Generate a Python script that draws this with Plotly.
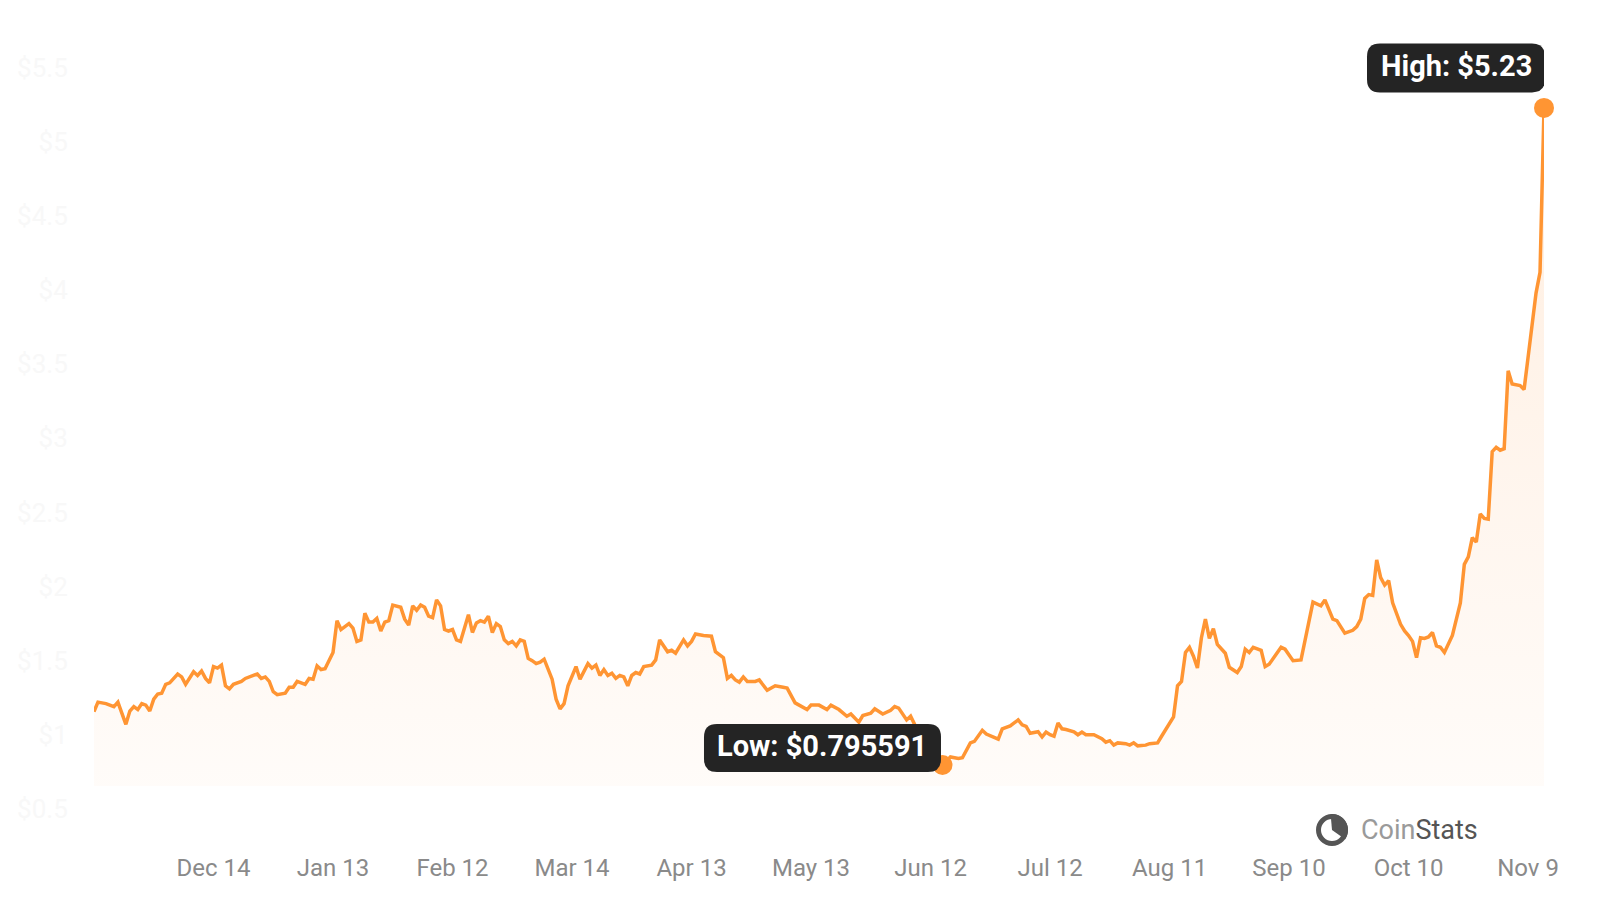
import math
import pandas as pd
import plotly.graph_objects as go

# ---------------- data ----------------
start_date = "2022-11-14"
day_offsets = [
    0, 1, 3, 4, 5, 6, 8, 9, 10, 11,
    12, 13, 14, 15, 16, 17, 18, 19, 21, 22,
    23, 25, 26, 27, 28, 29, 30, 31, 32, 33,
    34, 35, 37, 38, 41, 42, 43, 44, 45, 46,
    48, 49, 50, 51, 53, 54, 55, 56, 57, 58,
    59, 60, 61, 62, 64, 65, 66, 67, 68, 69,
    70, 71, 72, 73, 74, 75, 77, 78, 79, 80,
    81, 82, 83, 84, 85, 86, 87, 88, 89, 90,
    91, 92, 94, 95, 96, 97, 98, 99, 100, 101,
    102, 103, 104, 105, 106, 107, 108, 109, 110, 111,
    112, 113, 115, 116, 117, 118, 119, 120, 121, 122,
    124, 125, 126, 127, 128, 129, 130, 131, 132, 133,
    134, 135, 136, 137, 138, 140, 141, 142, 144, 145,
    146, 148, 149, 150, 151, 153, 155, 156, 158, 159,
    160, 161, 162, 163, 164, 166, 167, 169, 171, 173,
    174, 176, 177, 179, 180, 182, 184, 185, 187, 189,
    190, 192, 193, 195, 196, 198, 200, 201, 202, 204,
    205, 206, 208, 210, 212, 213, 215, 217, 218, 219,
    220, 221, 223, 224, 225, 227, 228, 230, 231, 232,
    233, 234, 235, 237, 238, 239, 240, 241, 242, 243,
    244, 246, 247, 248, 249, 251, 253, 254, 255, 256,
    257, 259, 260, 261, 262, 264, 265, 267, 268, 270,
    271, 272, 273, 274, 275, 276, 277, 278, 279, 280,
    281, 282, 284, 285, 287, 288, 289, 290, 291, 293,
    294, 295, 297, 298, 299, 301, 303, 306, 308, 309,
    311, 312, 314, 316, 317, 318, 319, 320, 321, 322,
    323, 324, 325, 326, 328, 329, 330, 331, 332, 333,
    334, 335, 336, 337, 338, 339, 341, 342, 343, 344,
    345, 346, 347, 348, 349, 350, 351, 352, 353, 354,
    355, 356, 358, 359, 362, 363, 364,
]
prices = [
    1.156, 1.22, 1.21, 1.20, 1.19, 1.22, 1.07, 1.16, 1.19, 1.17,
    1.21, 1.20, 1.16, 1.24, 1.275, 1.28, 1.34, 1.35, 1.41, 1.39,
    1.34, 1.425, 1.40, 1.43, 1.38, 1.35, 1.46, 1.45, 1.47, 1.33,
    1.31, 1.34, 1.36, 1.38, 1.41, 1.38, 1.39, 1.36, 1.29, 1.27,
    1.28, 1.32, 1.32, 1.36, 1.34, 1.38, 1.375, 1.465, 1.44, 1.445,
    1.505, 1.555, 1.77, 1.71, 1.75, 1.72, 1.63, 1.64, 1.82, 1.76,
    1.76, 1.785, 1.70, 1.76, 1.77, 1.875, 1.86, 1.78, 1.74, 1.87,
    1.84, 1.875, 1.86, 1.80, 1.79, 1.91, 1.87, 1.71, 1.70, 1.71,
    1.64, 1.63, 1.81, 1.69, 1.755, 1.77, 1.76, 1.80, 1.69, 1.75,
    1.73, 1.64, 1.615, 1.63, 1.60, 1.64, 1.63, 1.515, 1.50, 1.48,
    1.49, 1.51, 1.375, 1.24, 1.175, 1.21, 1.33, 1.40, 1.46, 1.375,
    1.48, 1.45, 1.47, 1.40, 1.44, 1.40, 1.415, 1.38, 1.40, 1.39,
    1.33, 1.40, 1.42, 1.41, 1.46, 1.47, 1.505, 1.64, 1.56, 1.57,
    1.55, 1.64, 1.60, 1.63, 1.68, 1.67, 1.665, 1.56, 1.52, 1.38,
    1.40, 1.37, 1.355, 1.39, 1.36, 1.36, 1.37, 1.30, 1.33, 1.32,
    1.315, 1.215, 1.20, 1.17, 1.20, 1.20, 1.17, 1.20, 1.17, 1.125,
    1.14, 1.085, 1.13, 1.145, 1.175, 1.14, 1.165, 1.19, 1.18, 1.10,
    1.125, 1.07, 0.98, 0.90, 0.84, 0.795591, 0.85, 0.84, 0.845, 0.895,
    0.945, 0.955, 1.03, 1.005, 0.995, 0.97, 1.04, 1.06, 1.08, 1.10,
    1.067, 1.056, 1.01, 1.02, 0.985, 1.018, 1.0, 0.99, 1.08, 1.04,
    1.035, 1.02, 1.0, 1.018, 1.0, 1.0, 0.973, 0.95, 0.96, 0.93,
    0.945, 0.94, 0.93, 0.946, 0.925, 0.93, 0.94, 0.945, 0.99, 1.08,
    1.12, 1.33, 1.36, 1.555, 1.59, 1.53, 1.45, 1.655, 1.78, 1.65,
    1.716, 1.61, 1.55, 1.455, 1.42, 1.46, 1.577, 1.555, 1.59, 1.57,
    1.46, 1.476, 1.555, 1.59, 1.577, 1.50, 1.505, 1.895, 1.87, 1.91,
    1.78, 1.77, 1.685, 1.705, 1.73, 1.78, 1.92, 1.946, 1.94, 2.18,
    2.06, 2.01, 2.04, 1.89, 1.745, 1.70, 1.67, 1.63, 1.52, 1.655,
    1.65, 1.66, 1.69, 1.60, 1.59, 1.555, 1.67, 1.79, 1.89, 2.15,
    2.20, 2.33, 2.30, 2.49, 2.46, 2.455, 2.91, 2.94, 2.92, 2.93,
    3.456, 3.367, 3.356, 3.33, 3.98, 4.12, 5.23,
]
x_tick_dates = ["2022-12-14", "2023-01-13", "2023-02-12", "2023-03-14",
                "2023-04-13", "2023-05-13", "2023-06-12", "2023-07-12",
                "2023-08-11", "2023-09-10", "2023-10-10", "2023-11-09"]
x_tick_labels = ["Dec 14", "Jan 13", "Feb 12", "Mar 14", "Apr 13", "May 13",
                 "Jun 12", "Jul 12", "Aug 11", "Sep 10", "Oct 10", "Nov 9"]
y_tick_values = [0.5, 1, 1.5, 2, 2.5, 3, 3.5, 4, 4.5, 5, 5.5]
y_tick_labels = ["$0.5", "$1", "$1.5", "$2", "$2.5", "$3", "$3.5", "$4", "$4.5", "$5", "$5.5"]
fill_base = 0.655

# ---------------- build ----------------
dates = pd.Timestamp(start_date) + pd.to_timedelta(day_offsets, unit="D")
i_hi = max(range(len(prices)), key=lambda i: prices[i])
i_lo = min(range(len(prices)), key=lambda i: prices[i])

ORANGE = "#ff9533"
L, R, T, B = 94, 56, 36, 75
W, H = 1600 - L - R, 900 - T - B

fig = go.Figure()
fig.add_trace(go.Scatter(x=[dates[0], dates[-1]], y=[fill_base, fill_base], mode="lines",
                         line=dict(width=0, color="rgba(0,0,0,0)"), hoverinfo="skip",
                         showlegend=False))
fig.add_trace(go.Scatter(
    x=dates, y=prices, mode="lines", fill="tonexty",
    line=dict(color=ORANGE, width=3.5),
    fillgradient=dict(type="vertical", start=fill_base, stop=max(prices),
                      colorscale=[[0, "rgba(255,140,45,0.03)"], [1, "rgba(255,140,45,0.15)"]]),
    showlegend=False))
fig.add_trace(go.Scatter(x=[dates[i_lo], dates[i_hi]], y=[prices[i_lo], prices[i_hi]],
                         mode="markers", marker=dict(color=ORANGE, size=20),
                         cliponaxis=False, showlegend=False))


def rounded_rect(cx, cy, w, h, r):
    x0, x1, y0, y1 = cx - w / 2, cx + w / 2, cy - h / 2, cy + h / 2
    return (f"M{x0 + r},{y0} L{x1 - r},{y0} Q{x1},{y0} {x1},{y0 + r} "
            f"L{x1},{y1 - r} Q{x1},{y1} {x1 - r},{y1} L{x0 + r},{y1} "
            f"Q{x0},{y1} {x0},{y1 - r} L{x0},{y0 + r} Q{x0},{y0} {x0 + r},{y0} Z")


labels = [
    (i_hi, f"High: ${prices[i_hi]:.2f}", -88, 40, 178, 49),
    (i_lo, f"Low: ${prices[i_lo]:.6f}", -120, 17, 237, 48),
]
for idx, text, dx, dy, bw, bh in labels:
    fig.add_shape(type="path", xref="x", yref="y", xsizemode="pixel", ysizemode="pixel",
                  xanchor=dates[idx], yanchor=prices[idx],
                  path=rounded_rect(dx, dy, bw, bh, 13),
                  fillcolor="#242424", line=dict(width=0), layer="above")
    fig.add_annotation(x=dates[idx], y=prices[idx], text=text, showarrow=False,
                       xshift=dx, yshift=dy + 2, xanchor="center", yanchor="middle",
                       font=dict(family="Roboto", size=29, color="white", weight="bold"))

# CoinStats logo
def pxx(px):
    return (px - L) / W


def pxy(py):
    return (900 - B - py) / H


cx, cy = pxx(1332), pxy(830)
fig.add_shape(type="circle", xref="paper", yref="paper", xsizemode="pixel", ysizemode="pixel",
              xanchor=cx, yanchor=cy, x0=-13.5, x1=13.5, y0=-13.5, y1=13.5,
              line=dict(color="#555555", width=5), layer="above")
pts = ["M0,0"]
for k in range(0, 21):
    a = math.radians(95 - k * 6.5)
    pts.append(f"L{16 * math.cos(a):.2f},{16 * math.sin(a):.2f}")
pts.append("Z")
fig.add_shape(type="path", xref="paper", yref="paper", xsizemode="pixel", ysizemode="pixel",
              xanchor=cx, yanchor=cy, path=" ".join(pts),
              fillcolor="#555555", line=dict(width=0), layer="above")
fig.add_annotation(xref="paper", yref="paper", x=pxx(1359), y=pxy(830), xanchor="left",
                   yanchor="middle", showarrow=False,
                   text="<span style='color:#9a9a9a'>Coin</span><span style='color:#555555'>Stats</span>",
                   font=dict(family="Roboto", size=27))

fig.update_layout(
    width=1600, height=900,
    margin=dict(l=L, r=R, t=T, b=B),
    paper_bgcolor="white", plot_bgcolor="white",
    showlegend=False,
    xaxis=dict(range=[dates[0], dates[-1]], showgrid=False, zeroline=False, showline=False,
               tickmode="array", tickvals=x_tick_dates, ticktext=x_tick_labels,
               ticks="outside", ticklen=21, tickcolor="rgba(0,0,0,0)",
               tickfont=dict(family="Roboto", size=24, color="#8a8a8a")),
    yaxis=dict(range=[0.391, 5.715], showgrid=False, zeroline=False, showline=False,
               tickmode="array", tickvals=y_tick_values, ticktext=y_tick_labels,
               ticks="outside", ticklen=20, tickcolor="rgba(0,0,0,0)",
               tickfont=dict(family="Roboto", size=26, color="#f8f8f8")),
)

fig.write_html("out.html", config={"displayModeBar": False},
               post_script="document.body.style.margin='0';document.body.style.overflow='hidden';")
